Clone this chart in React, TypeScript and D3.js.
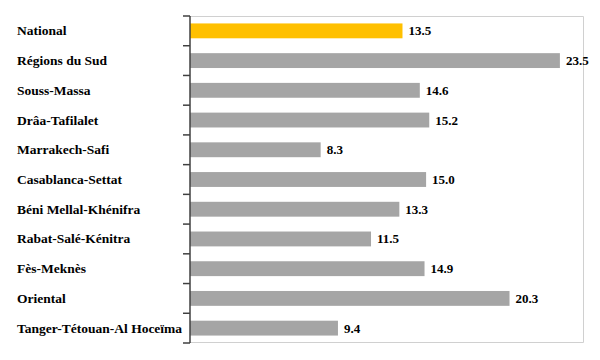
import React from "react";
import * as d3 from "d3";

const categories = [
  "National",
  "Régions du Sud",
  "Souss-Massa",
  "Drâa-Tafilalet",
  "Marrakech-Safi",
  "Casablanca-Settat",
  "Béni Mellal-Khénifra",
  "Rabat-Salé-Kénitra",
  "Fès-Meknès",
  "Oriental",
  "Tanger-Tétouan-Al Hoceïma",
];
const values = [13.5, 23.5, 14.6, 15.2, 8.3, 15.0, 13.3, 11.5, 14.9, 20.3, 9.4];
const highlight = ["National"];

const W = 600;
const H = 360;
const left = 190;
const right = 583.5;
const top = 16;
const bottom = 343;

export default function App() {
  const x = d3.scaleLinear().domain([0, 25]).range([left, right]);
  const y = d3.scaleBand<string>().domain(categories).range([top, bottom]).paddingInner(0.5).paddingOuter(0.25);
  const step = (bottom - top) / categories.length;
  const fontStyle = { fontFamily: '"Liberation Serif", "Times New Roman", serif' };
  return (
    <svg
      width={W}
      height={H}
      style={{ position: "absolute", left: 0, top: 0, background: "#fff" }}
    >
      <rect x={0} y={0} width={W} height={H} fill="#fff" />
      <path
        d={`M${left},${top + 0.5}H${right}V${bottom - 0.5}H${left}`}
        fill="none"
        stroke="#d0d0d0"
        strokeWidth={1}
      />
      {categories.map((c, i) => {
        const yy = y(c)!;
        const isH = highlight.includes(c);
        return (
          <g key={c}>
            <rect
              x={x(0)}
              y={yy}
              width={x(values[i]) - x(0)}
              height={y.bandwidth()}
              fill={isH ? "#ffc000" : "#a5a5a5"}
            />
            <text
              x={x(values[i]) + 6}
              y={yy + y.bandwidth() / 2}
              dominantBaseline="central"
              fontSize={13}
              fontWeight="bold"
              fill="#000"
              style={fontStyle}
            >
              {values[i].toFixed(1)}
            </text>
            <text
              x={17}
              y={yy + y.bandwidth() / 2}
              dominantBaseline="central"
              fontSize={13.5}
              fontWeight="bold"
              fill="#000"
              style={fontStyle}
            >
              {c}
            </text>
          </g>
        );
      })}
      <line x1={left} x2={left} y1={top} y2={bottom} stroke="#404040" strokeWidth={1.5} />
      {d3.range(categories.length + 1).map((i) => (
        <line
          key={i}
          x1={left - 7}
          x2={left}
          y1={top + i * step}
          y2={top + i * step}
          stroke="#404040"
          strokeWidth={1.5}
        />
      ))}
    </svg>
  );
}
